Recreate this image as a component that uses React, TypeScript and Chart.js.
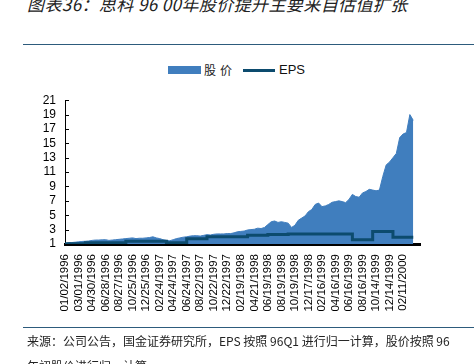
import React, { useEffect, useRef } from 'react';
import { Chart, registerables } from 'chart.js';

Chart.register(...registerables);

// X tick labels (one every 4 slots)
const dateLabels = [
  '01/02/1996', '03/01/1996', '04/30/1996', '06/28/1996', '08/27/1996', '10/25/1996',
  '12/25/1996', '02/24/1997', '04/24/1997', '06/24/1997', '08/22/1997', '10/22/1997',
  '12/22/1997', '02/19/1998', '04/21/1998', '06/19/1998', '08/19/1998', '10/19/1998',
  '12/17/1998', '02/16/1999', '04/16/1999', '06/16/1999', '08/16/1999', '10/14/1999',
  '12/14/1999', '02/11/2000',
];
const slotsPerLabel = 4;
const lastSlot = 105;

// Normalised share price (96 start = 1), one value per slot
const priceValues = [
  1.0, 1.2, 1.2, 1.25, 1.3, 1.35, 1.38, 1.42, 1.5, 1.55,
  1.55, 1.58, 1.6, 1.5, 1.55, 1.6, 1.65, 1.7, 1.75, 1.8,
  1.85, 1.75, 1.8, 1.8, 1.85, 1.9, 2.0, 1.85, 1.75, 1.6,
  1.5, 1.45, 1.6, 1.75, 1.85, 1.95, 2.0, 2.1, 2.15, 2.15,
  2.1, 2.2, 2.3, 2.25, 2.35, 2.4, 2.4, 2.4, 2.45, 2.45,
  2.55, 2.7, 2.75, 2.8, 2.95, 3.0, 3.05, 3.2, 3.15, 3.3,
  3.7, 4.1, 4.2, 4.0, 4.1, 4.0, 3.9, 3.3, 3.6, 4.3,
  4.6, 4.9, 5.5, 5.8, 6.5, 6.7, 6.2, 6.3, 6.5, 6.8,
  6.9, 7.0, 6.9, 6.75, 7.2, 7.9, 7.6, 7.5, 8.1, 8.3,
  8.6, 8.5, 8.4, 8.5, 10.4, 12.0, 12.4, 13.0, 13.6, 15.8,
  16.3, 16.5, 19.0, 18.2,
];

// Normalised EPS (96Q1 = 1): slot where each level starts, and the level
const epsSlots = [0, 6, 18, 30, 36, 42, 54, 60, 66, 85, 91, 97, 103];
const epsValues = [1.05, 1.18, 1.37, 1.18, 1.72, 2.0, 2.2, 2.33, 2.4, 1.6, 2.75, 1.95, 1.95];

const yMin = 1;
const yMax = 21;
const yStep = 2;

const PRICE_COLOR = 'rgb(64,126,190)';
const EPS_COLOR = '#0c4b6e';

const innerTicks = {
  id: 'innerTicks',
  afterDraw(chart: any) {
    const y = chart.scales.y;
    const ctx = chart.ctx;
    ctx.save();
    ctx.strokeStyle = '#000';
    ctx.lineWidth = 1;
    y.ticks.forEach((t: any) => {
      const py = Math.round(y.getPixelForValue(t.value)) + 0.5;
      ctx.beginPath();
      ctx.moveTo(chart.chartArea.left, py);
      ctx.lineTo(chart.chartArea.left + 4, py);
      ctx.stroke();
    });
    ctx.restore();
  },
};

function PriceChart() {
  const ref = useRef<HTMLCanvasElement | null>(null);
  useEffect(() => {
    if (!ref.current) return;
    const chart = new Chart(ref.current, {
      type: 'line',
      data: {
        datasets: [
          {
            label: 'EPS',
            data: epsSlots.map((s, i) => ({ x: s, y: epsValues[i] })),
            borderColor: EPS_COLOR,
            backgroundColor: EPS_COLOR,
            borderWidth: 3,
            stepped: 'before',
            pointRadius: 0,
            fill: false,
          },
          {
            label: '股价',
            data: priceValues.map((v, i) => ({ x: i, y: v })),
            borderColor: PRICE_COLOR,
            backgroundColor: PRICE_COLOR,
            borderWidth: 1,
            pointRadius: 0,
            tension: 0,
            fill: 'start',
          },
        ],
      },
      options: {
        animation: false,
        responsive: false,
        maintainAspectRatio: false,
        layout: { padding: { top: 8, right: 54, left: 0, bottom: 0 } },
        plugins: { legend: { display: false }, tooltip: { enabled: false } },
        scales: {
          x: {
            type: 'linear',
            min: 0,
            max: lastSlot,
            grid: { display: false, drawTicks: false },
            border: { display: true, color: '#000', width: 3 },
            afterFit: (s: any) => { s.height = 86; },
            ticks: {
              stepSize: slotsPerLabel,
              autoSkip: false,
              minRotation: 90,
              maxRotation: 90,
              padding: 10,
              color: '#000',
              font: { family: 'Liberation Sans, Arial, sans-serif', size: 11.5 },
              callback: (v: any) => {
                const n = Number(v);
                if (n % slotsPerLabel !== 0) return '';
                return dateLabels[n / slotsPerLabel] ?? '';
              },
            },
          },
          y: {
            min: yMin,
            max: yMax,
            grid: { display: false, drawTicks: false },
            border: { display: true, color: '#000', width: 1 },
            afterFit: (s: any) => { s.width = 65; },
            ticks: {
              stepSize: yStep,
              autoSkip: false,
              padding: 9,
              color: '#000',
              font: { family: 'Liberation Sans, Arial, sans-serif', size: 12 },
            },
          },
        },
      },
      plugins: [innerTicks],
    });
    return () => chart.destroy();
  }, []);
  return (
    <canvas
      ref={ref}
      width={474}
      height={246}
      style={{ position: 'absolute', left: 0, top: 84, width: 474, height: 246 }}
    />
  );
}

export default function App() {
  const cjk = '"Noto Sans CJK SC", "Noto Sans", sans-serif';
  return (
    <div style={{ position: 'absolute', left: 0, top: 0, width: 474, height: 364, overflow: 'hidden', background: '#fff' }}>
      <div style={{ position: 'absolute', left: 27, top: -6, fontFamily: cjk, fontSize: 17, lineHeight: '20px', fontStyle: 'italic', color: '#222', whiteSpace: 'nowrap', letterSpacing: 0.4 }}>
        图表36：思科 96 00年股价提升主要来自估值扩张
      </div>
      <div style={{ position: 'absolute', left: 23, top: 43.5, width: 451, height: 1.5, background: '#2d5b7c' }} />

      <div style={{ position: 'absolute', left: 168, top: 66, width: 33, height: 8, background: PRICE_COLOR }} />
      <div style={{ position: 'absolute', left: 204, top: 61, fontFamily: cjk, fontSize: 12, lineHeight: '18px', color: '#222', whiteSpace: 'nowrap', letterSpacing: 4 }}>
        股价
      </div>
      <div style={{ position: 'absolute', left: 243, top: 68.5, width: 32, height: 3.5, background: EPS_COLOR }} />
      <div style={{ position: 'absolute', left: 279, top: 61, fontFamily: 'Liberation Sans, Arial, sans-serif', fontSize: 13, lineHeight: '18px', color: '#111', whiteSpace: 'nowrap' }}>
        EPS
      </div>

      <PriceChart />

      <div style={{ position: 'absolute', left: 23, top: 326.5, width: 451, height: 1.5, background: '#2d5b7c' }} />
      <div style={{ position: 'absolute', left: 27, top: 332, fontFamily: cjk, fontSize: 12, lineHeight: '18px', color: '#222', whiteSpace: 'nowrap' }}>
        来源：公司公告，国金证券研究所，EPS 按照 96Q1 进行归一计算，股价按照 96
      </div>
      <div style={{ position: 'absolute', left: 27, top: 357, fontFamily: cjk, fontSize: 12, lineHeight: '18px', color: '#222', whiteSpace: 'nowrap' }}>
        年初股价进行归一计算。
      </div>
    </div>
  );
}
